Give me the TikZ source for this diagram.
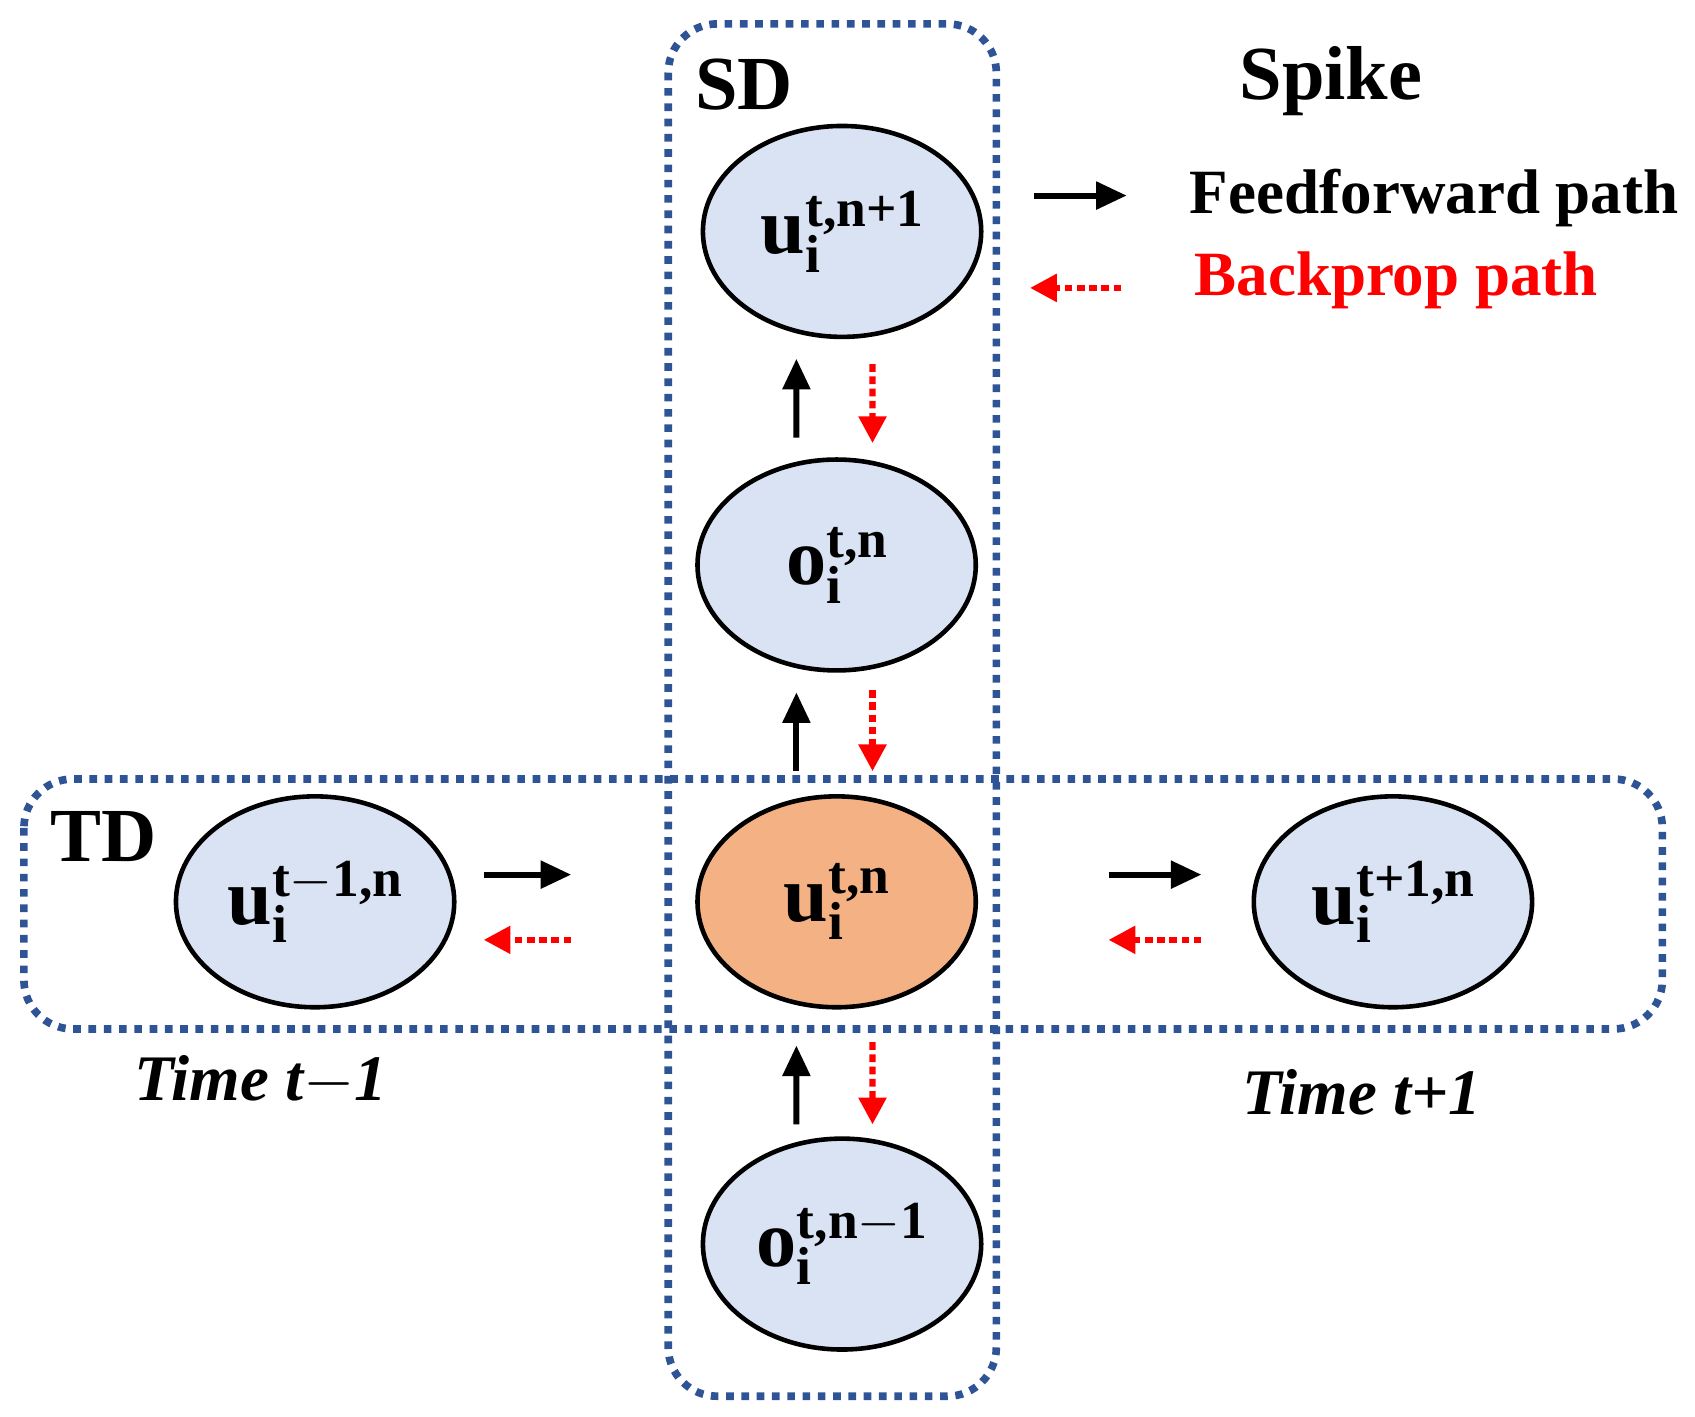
\documentclass[tikz,border=0pt]{standalone}
\usepackage{fontspec}
\setmainfont{Liberation Serif}
\usetikzlibrary{arrows.meta,positioning,shapes.geometric}
\definecolor{boxblue}{RGB}{47,84,150}
\definecolor{cellblue}{RGB}{218,227,243}
\definecolor{cellorange}{RGB}{244,177,131}
\newcommand{\cellvar}[2]{\textbf{#1\rlap{\raisebox{-0.5ex}{\fontsize{14}{14}\selectfont i}}\raisebox{0.75ex}{\fontsize{14}{14}\selectfont #2}}}
\begin{document}
\begin{tikzpicture}[x=0.01cm,y=-0.01cm,
   cell/.style={ellipse, draw, line width=1.2pt, fill=cellblue, minimum width=2.56cm, minimum height=1.94cm, inner sep=0pt, font=\fontsize{21}{21}\selectfont},
   region/.style={draw=boxblue, line width=2pt, dash pattern=on 2pt off 2pt, rounded corners=0.45cm},
   ff/.style={-{Triangle[length=8pt,width=7pt]}, line width=1.6pt},
   bp/.style={-{Triangle[length=7pt,width=7pt]}, red, line width=1.6pt, dash pattern=on 2pt off 1.2pt}]
   \useasboundingbox (0,0) rectangle (1560,1304);
   \draw[region] (615,22) rectangle (917,1285);
   \draw[region] (22,717) rectangle (1530,947);
   \node (top) at (775,213) [cell] {\cellvar{u}{t,n+1}};
   \node (mid) at (770,520) [cell] {\cellvar{o}{t,n}};
   \node (cur) at (770,830) [cell, fill=cellorange] {\cellvar{u}{t,n}};
   \node (bot) at (775,1145) [cell] {\cellvar{o}{t,n$-$1}};
   \node (lft) at (290,830) [cell] {\cellvar{u}{t$-$1,n}};
   \node (rgt) at (1282,830) [cell] {\cellvar{u}{t+1,n}};
   \node (sd) at (685,78) {\fontsize{20}{20}\selectfont\bfseries SD};
   \node (td) at (95,770) {\fontsize{20}{20}\selectfont\bfseries TD};
   \node (spike) at (1225,75) {\fontsize{20}{20}\selectfont\bfseries Spike};
   \node (fftext) at (1320,182) {\fontsize{16.5}{16.5}\selectfont\bfseries Feedforward path};
   \node (bptext) at (1285,258) [red] {\fontsize{16.5}{16.5}\selectfont\bfseries Backprop path};
   \node (tprev) at (240,995) {\fontsize{17}{17}\selectfont\bfseries\itshape Time t$-$1};
   \node (tnext) at (1253,1005) {\fontsize{17}{17}\selectfont\bfseries\itshape Time t+1};
   % legend
   \coordinate (ffa) at (952,180); \coordinate (ffb) at (1037,180);
   \coordinate (bpa) at (1032,265); \coordinate (bpb) at (948,265);
   \draw[ff] (ffa) -- (ffb);
   \draw[bp] (bpa) -- (bpb);
   % spatial paths
   \draw[ff] ([xshift=-0.37cm,yshift=0.18cm]mid.north) -- ([xshift=-0.42cm,yshift=-0.18cm]top.south);
   \draw[bp] ([xshift=0.28cm,yshift=-0.23cm]top.south) -- ([xshift=0.33cm,yshift=0.13cm]mid.north);
   \draw[ff] ([xshift=-0.37cm,yshift=0.21cm]cur.north) -- ([xshift=-0.37cm,yshift=-0.18cm]mid.south);
   \draw[bp] ([xshift=0.33cm,yshift=-0.16cm]mid.south) -- ([xshift=0.33cm,yshift=0.21cm]cur.north);
   \draw[ff] ([xshift=-0.42cm,yshift=0.11cm]bot.north) -- ([xshift=-0.37cm,yshift=-0.33cm]cur.south);
   \draw[bp] ([xshift=0.33cm,yshift=-0.3cm]cur.south) -- ([xshift=0.28cm,yshift=0.11cm]bot.north);
   % temporal paths
   \draw[ff] ([xshift=0.25cm,yshift=0.25cm]lft.east) -- ([xshift=-1.14cm,yshift=0.25cm]cur.west);
   \draw[bp] ([xshift=-1.14cm,yshift=-0.35cm]cur.west) -- ([xshift=0.25cm,yshift=-0.35cm]lft.east);
   \draw[ff] ([xshift=1.2cm,yshift=0.25cm]cur.east) -- ([xshift=-0.46cm,yshift=0.25cm]rgt.west);
   \draw[bp] ([xshift=-0.46cm,yshift=-0.35cm]rgt.west) -- ([xshift=1.2cm,yshift=-0.35cm]cur.east);
\end{tikzpicture}
\end{document}
